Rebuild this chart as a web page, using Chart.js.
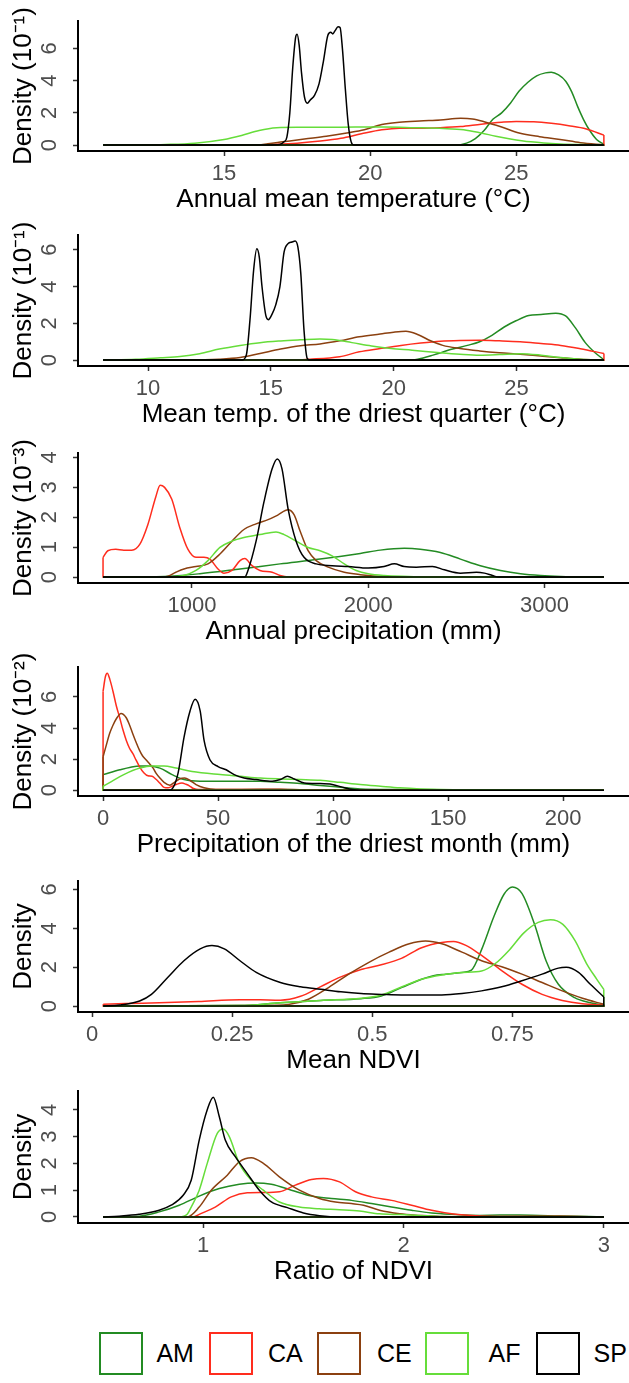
<!DOCTYPE html>
<html><head><meta charset="utf-8">
<script src="https://cdn.jsdelivr.net/npm/chart.js@4.4.1/dist/chart.umd.min.js"></script>
<style>
html,body{margin:0;padding:0;background:#fff;}
body{width:629px;height:1383px;position:relative;overflow:hidden;font-family:"Liberation Sans",Arial,Helvetica,sans-serif;}
canvas{position:absolute;left:0;}
.lb{position:absolute;box-sizing:border-box;width:44px;height:43px;border:2px solid #000;background:#fff;}
.lt{position:absolute;font-size:25px;line-height:43px;height:43px;color:#000;white-space:nowrap;}
</style></head><body>
<canvas id="c1"></canvas><canvas id="c2"></canvas><canvas id="c3"></canvas>
<canvas id="c4"></canvas><canvas id="c5"></canvas><canvas id="c6"></canvas>
<div id="legend"></div>
<script>
// ---------------- DATA ----------------
const seriesNames = ['AM','CA','CE','AF','SP'];

// Panel 1: Annual mean temperature
const p1_AM = [[10.86,0],[22.9,0],[23.3,0.12],[23.6,0.4],[23.9,0.9],[24.2,1.6],[24.5,2.0],[24.8,2.6],[25.1,3.35],[25.4,3.9],[25.7,4.3],[26.0,4.48],[26.2,4.52],[26.45,4.35],[26.7,3.95],[26.9,3.3],[27.1,2.4],[27.3,1.6],[27.5,0.95],[27.75,0.35],[28.0,0.05]];
const p1_CA = [[10.86,0],[16.0,0],[16.8,0.05],[17.5,0.12],[18.3,0.25],[19.0,0.42],[19.7,0.7],[20.4,0.95],[21.0,1.05],[21.7,1.05],[22.4,1.08],[23.1,1.15],[23.8,1.3],[24.5,1.42],[25.0,1.47],[25.6,1.45],[26.2,1.35],[26.8,1.2],[27.4,1.0],[28.0,0.62]];
const p1_CE = [[10.86,0],[16.0,0],[16.5,0.08],[17.0,0.2],[17.75,0.38],[18.5,0.55],[19.2,0.75],[19.8,0.95],[20.4,1.28],[21.0,1.42],[21.7,1.5],[22.4,1.56],[23.1,1.66],[23.5,1.62],[23.9,1.45],[24.5,1.12],[25.1,0.75],[25.8,0.52],[26.5,0.35],[27.2,0.15],[28.0,0.02]];
const p1_AF = [[10.86,0],[12,0.01],[13,0.04],[14,0.12],[15,0.35],[15.6,0.6],[16.2,0.9],[16.8,1.07],[17.5,1.1],[18.5,1.1],[19.5,1.12],[20.5,1.12],[21.5,1.08],[22.5,1.03],[23.2,0.95],[23.8,0.75],[24.3,0.55],[24.8,0.38],[25.5,0.2],[26.5,0.07],[27.5,0.02],[28.0,0]];
const p1_SP = [[10.86,0],[16.5,0],[16.9,0.03],[17.05,0.2],[17.15,0.5],[17.25,2.0],[17.35,4.8],[17.45,6.7],[17.5,6.88],[17.57,6.2],[17.65,4.5],[17.75,3.0],[17.85,2.6],[17.95,2.8],[18.1,3.1],[18.25,3.8],[18.4,5.2],[18.55,6.8],[18.65,7.0],[18.72,6.9],[18.8,7.1],[18.9,7.35],[18.97,7.3],[19.05,6.0],[19.15,3.5],[19.25,1.3],[19.35,0.2],[19.45,0],[28.0,0]];

// Panel 2: Mean temp. of the driest quarter
const p2_AM = [[8.17,0],[20.7,0],[21.2,0.12],[21.6,0.27],[22.4,0.6],[23.0,0.8],[23.5,1.0],[24.0,1.35],[24.5,1.8],[25.0,2.15],[25.5,2.42],[26.0,2.48],[26.6,2.55],[27.0,2.4],[27.4,1.75],[27.8,0.95],[28.2,0.4],[28.56,0.02]];
const p2_CA = [[8.17,0],[15.5,0],[16.6,0.05],[17.8,0.18],[18.6,0.45],[19.45,0.63],[20.3,0.8],[21.1,0.93],[21.9,1.03],[22.7,1.07],[23.5,1.08],[24.3,1.05],[25.15,1.0],[26.0,0.9],[26.8,0.8],[27.6,0.62],[28.56,0.36]];
const p2_CE = [[8.17,0],[11.5,0.01],[12.9,0.05],[13.75,0.14],[14.56,0.36],[15.4,0.6],[16.2,0.78],[17.0,0.88],[17.8,1.05],[18.6,1.27],[19.45,1.42],[20.0,1.52],[20.5,1.57],[21.0,1.38],[21.5,1.05],[22.0,0.8],[22.7,0.63],[23.5,0.5],[24.3,0.4],[25.15,0.32],[26.0,0.22],[26.8,0.13],[27.6,0.05],[28.56,0]];
const p2_AF = [[8.17,0],[9.5,0.05],[10.5,0.13],[11.3,0.2],[12.1,0.35],[12.9,0.6],[13.75,0.8],[14.56,0.95],[15.4,1.04],[16.2,1.1],[17.0,1.15],[17.5,1.12],[18.3,0.95],[19.1,0.77],[19.9,0.63],[20.75,0.54],[21.9,0.4],[22.7,0.32],[23.5,0.27],[24.3,0.3],[25.15,0.35],[26.0,0.27],[26.8,0.14],[27.6,0.05],[28.56,0]];
const p2_SP = [[8.17,0],[13.8,0],[14.0,0.27],[14.15,2.17],[14.3,4.9],[14.43,6.05],[14.53,5.6],[14.64,4.0],[14.8,2.4],[14.9,2.2],[15.05,2.5],[15.2,3.0],[15.37,4.0],[15.54,5.88],[15.7,6.33],[15.86,6.42],[15.99,6.47],[16.1,6.15],[16.22,4.7],[16.35,1.63],[16.48,0.1],[16.6,0],[28.56,0]];

// Panel 3: Annual precipitation
const p3_AM = [[496,0],[800,0.01],[1045,0.11],[1273,0.27],[1500,0.44],[1727,0.6],[1955,0.79],[2068,0.9],[2205,0.96],[2295,0.93],[2409,0.82],[2523,0.6],[2636,0.38],[2750,0.22],[2864,0.11],[2977,0.05],[3091,0.02],[3337,0]];
const p3_CA = [[496,0.65],[523,0.88],[568,0.93],[614,0.9],[659,0.9],[705,1.1],[750,1.75],[795,2.68],[820,3.07],[845,3.0],[886,2.6],[932,1.64],[977,0.93],[1023,0.66],[1068,0.66],[1102,0.6],[1148,0.27],[1182,0.13],[1227,0.22],[1273,0.55],[1300,0.62],[1341,0.38],[1386,0.22],[1455,0.16],[1500,0.05],[1545,0],[3337,0]];
const p3_CE = [[496,0],[800,0],[864,0.03],[909,0.16],[955,0.27],[1023,0.35],[1091,0.44],[1159,0.77],[1227,1.2],[1295,1.59],[1364,1.78],[1432,1.92],[1489,2.08],[1545,2.25],[1580,2.08],[1614,1.53],[1659,0.88],[1705,0.55],[1773,0.33],[1864,0.16],[1955,0.08],[2068,0.02],[2200,0],[3337,0]];
const p3_AF = [[496,0],[880,0],[955,0.05],[1023,0.22],[1091,0.55],[1159,0.99],[1227,1.2],[1295,1.32],[1386,1.42],[1477,1.51],[1523,1.42],[1591,1.2],[1659,0.99],[1727,0.88],[1795,0.71],[1864,0.44],[1932,0.22],[2000,0.11],[2091,0.05],[2227,0.02],[2350,0],[3337,0]];
const p3_SP = [[496,0],[1300,0],[1318,0.22],[1364,1.2],[1409,2.52],[1455,3.62],[1484,3.95],[1511,3.62],[1545,2.3],[1591,1.2],[1636,0.66],[1705,0.44],[1795,0.38],[1886,0.35],[2000,0.3],[2090,0.35],[2148,0.44],[2204,0.35],[2273,0.33],[2364,0.35],[2432,0.24],[2523,0.13],[2614,0.16],[2659,0.13],[2705,0.05],[2739,0],[3337,0]];

// Panel 4: Precipitation of the driest month
const p4_AM = [[0,1.0],[7.3,1.31],[12,1.48],[16,1.56],[19.5,1.56],[24.7,1.42],[30,1.0],[35.2,0.68],[42.2,0.57],[50.9,0.57],[59.6,0.57],[68.3,0.57],[77,0.5],[85.7,0.42],[94.4,0.3],[103,0.19],[111.8,0.08],[129,0.04],[146.7,0.02],[217.7,0]];
const p4_CA = [[0,6.37],[1.0,7.3],[1.8,7.53],[3.0,7.1],[4.3,6.37],[5.8,5.4],[7.2,4.68],[8.6,3.9],[10.1,3.2],[11.5,2.7],[12.9,2.36],[14.3,1.95],[15.8,1.52],[17.8,1.1],[19.5,0.92],[21.3,0.89],[23.0,0.7],[24.7,0.45],[26.5,0.18],[28.2,0.15],[30.0,0.25],[32.0,0.38],[34.3,0.46],[36.0,0.38],[37.5,0.28],[39.0,0.12],[40.4,0.06],[45.6,0.04],[60,0.04],[77,0.04],[86,0.01],[100,0],[217.7,0]];
const p4_CE = [[0,2.15],[1.4,2.9],[2.8,3.63],[4.2,4.15],[5.7,4.58],[7.8,4.94],[10,4.68],[11.5,4.2],[12.9,3.63],[14.3,3.1],[15.8,2.58],[17.2,2.2],[18.75,1.94],[20.2,1.7],[21.6,1.45],[23.0,1.1],[24.7,0.78],[26.5,0.5],[29,0.32],[31.0,0.5],[33.0,0.7],[35.5,0.78],[37.8,0.62],[40.4,0.36],[43.9,0.15],[49,0.04],[60,0.04],[77,0.06],[94,0],[217.7,0]];
const p4_AF = [[0,0.25],[3.8,0.57],[9,1.0],[16,1.42],[21.3,1.56],[26.5,1.56],[31.7,1.42],[38.7,1.2],[50.9,1.0],[59.6,0.89],[68.3,0.78],[77,0.72],[85.7,0.68],[94.4,0.63],[103,0.5],[111.8,0.36],[120.6,0.25],[129,0.15],[138,0.08],[146.7,0.04],[164,0.02],[217.7,0]];
const p4_SP = [[0,0],[28.5,0],[30,0.08],[32.6,1.1],[35.2,3.42],[37.8,5.1],[40,5.85],[42.2,5.1],[43.9,3.2],[46.5,1.94],[50,1.52],[53.5,1.31],[57,1.0],[61.3,0.78],[66.5,0.68],[73.5,0.57],[77,0.68],[80.1,0.89],[83.1,0.72],[87.5,0.46],[94.4,0.42],[99.6,0.36],[104.9,0.15],[108.4,0.04],[111.8,0],[217.7,0]];

// Panel 5: Mean NDVI
const p5_AM = [[0.02,0],[0.264,0.03],[0.336,0.17],[0.408,0.29],[0.48,0.38],[0.516,0.52],[0.552,0.95],[0.588,1.38],[0.609,1.56],[0.631,1.64],[0.66,1.73],[0.677,1.85],[0.695,2.9],[0.717,4.6],[0.735,5.75],[0.75,6.12],[0.767,5.79],[0.789,4.24],[0.81,2.33],[0.832,1.12],[0.861,0.43],[0.889,0.17],[0.913,0.05]];
const p5_CA = [[0.02,0.09],[0.06,0.13],[0.12,0.17],[0.19,0.24],[0.264,0.33],[0.3,0.32],[0.336,0.3],[0.372,0.5],[0.408,1.0],[0.444,1.5],[0.48,1.88],[0.516,2.12],[0.552,2.45],[0.588,3.0],[0.624,3.27],[0.645,3.32],[0.667,3.12],[0.695,2.6],[0.731,1.82],[0.767,1.12],[0.803,0.6],[0.839,0.29],[0.875,0.12],[0.913,0.05]];
const p5_CE = [[0.02,0],[0.3,0.03],[0.35,0.08],[0.386,0.35],[0.422,0.95],[0.458,1.64],[0.494,2.25],[0.53,2.77],[0.566,3.2],[0.595,3.34],[0.624,3.2],[0.66,2.77],[0.695,2.33],[0.731,2.02],[0.767,1.64],[0.803,1.21],[0.839,0.78],[0.875,0.4],[0.913,0.09]];
const p5_AF = [[0.02,0],[0.264,0.03],[0.336,0.17],[0.408,0.29],[0.48,0.4],[0.516,0.57],[0.552,0.98],[0.588,1.38],[0.624,1.6],[0.66,1.73],[0.695,1.8],[0.72,2.2],[0.745,2.9],[0.77,3.75],[0.796,4.3],[0.818,4.44],[0.84,4.2],[0.862,3.35],[0.882,2.2],[0.9,1.4],[0.913,0.86]];
const p5_SP = [[0.02,0],[0.049,0.05],[0.085,0.26],[0.106,0.6],[0.135,1.47],[0.164,2.33],[0.193,2.94],[0.214,3.11],[0.236,2.94],[0.264,2.33],[0.293,1.73],[0.336,1.21],[0.372,0.99],[0.408,0.86],[0.444,0.73],[0.48,0.64],[0.516,0.6],[0.552,0.57],[0.624,0.57],[0.66,0.64],[0.695,0.78],[0.731,0.99],[0.767,1.3],[0.803,1.64],[0.832,1.95],[0.846,1.99],[0.868,1.73],[0.889,1.12],[0.913,0.47]];

// Panel 6: Ratio of NDVI
const p6_AM = [[0.5,0],[0.68,0.03],[0.78,0.19],[0.88,0.44],[0.98,0.78],[1.08,1.06],[1.18,1.22],[1.26,1.27],[1.34,1.22],[1.44,1.0],[1.54,0.78],[1.64,0.69],[1.74,0.62],[1.84,0.5],[1.94,0.37],[2.04,0.25],[2.14,0.15],[2.24,0.1],[2.38,0.06],[2.48,0.07],[2.58,0.07],[2.78,0.04],[3.0,0]];
const p6_CA = [[0.5,0],[0.95,0],[0.98,0.1],[1.06,0.37],[1.14,0.75],[1.22,0.9],[1.3,0.91],[1.38,0.94],[1.46,1.19],[1.54,1.4],[1.6,1.44],[1.68,1.31],[1.76,0.94],[1.84,0.75],[1.94,0.62],[2.04,0.44],[2.14,0.25],[2.24,0.12],[2.38,0.04],[2.58,0.02],[2.78,0.02],[3.0,0]];
const p6_CE = [[0.5,0],[0.92,0],[0.98,0.37],[1.04,1.0],[1.12,1.56],[1.18,2.06],[1.24,2.21],[1.3,2.0],[1.38,1.5],[1.48,1.0],[1.58,0.69],[1.66,0.56],[1.74,0.5],[1.8,0.44],[1.88,0.25],[1.98,0.12],[2.08,0.06],[2.18,0.02],[2.4,0.01],[2.78,0.03],[3.0,0]];
const p6_AF = [[0.5,0],[0.88,0],[0.92,0.1],[0.94,0.37],[0.98,1.0],[1.02,2.0],[1.07,3.12],[1.1,3.28],[1.13,3.0],[1.18,2.0],[1.24,1.37],[1.3,1.0],[1.38,0.56],[1.48,0.37],[1.58,0.31],[1.68,0.27],[1.78,0.22],[1.88,0.12],[1.98,0.09],[2.08,0.06],[2.18,0.02],[2.38,0],[3.0,0]];
const p6_SP = [[0.5,0],[0.58,0.03],[0.68,0.1],[0.78,0.25],[0.84,0.44],[0.9,0.81],[0.94,1.37],[0.98,2.87],[1.02,4.0],[1.05,4.47],[1.08,3.75],[1.11,2.87],[1.16,2.25],[1.22,1.62],[1.28,1.0],[1.34,0.56],[1.42,0.35],[1.5,0.15],[1.58,0.05],[1.68,0],[3.0,0]];

// Axis titles
const xTitles = ['Annual mean temperature (\u00B0C)','Mean temp. of the driest quarter (\u00B0C)','Annual precipitation (mm)','Precipitation of the driest month (mm)','Mean NDVI','Ratio of NDVI'];
const yTitles = ['Density (10\u207B\u00B9)','Density (10\u207B\u00B9)','Density (10\u207B\u00B3)','Density (10\u207B\u00B2)','Density','Density'];

// Tick values and labels
const xTicks1 = [15,20,25], xLabels1 = ['15','20','25'];
const xTicks2 = [10,15,20,25], xLabels2 = ['10','15','20','25'];
const xTicks3 = [1000,2000,3000], xLabels3 = ['1000','2000','3000'];
const xTicks4 = [0,50,100,150,200], xLabels4 = ['0','50','100','150','200'];
const xTicks5 = [0,0.25,0.5,0.75], xLabels5 = ['0','0.25','0.5','0.75'];
const xTicks6 = [1,2,3], xLabels6 = ['1','2','3'];
const yTicks1 = [0,2,4,6], yTicks2 = [0,2,4,6], yTicks3 = [0,1,2,3,4], yTicks4 = [0,2,4,6], yTicks5 = [0,2,4,6], yTicks6 = [0,1,2,3,4];

// Axis ranges (ggplot 5% expansion)
const xRanges = [[10.0,28.86],[7.15,29.58],[354,3479],[-10.9,228.6],[-0.025,0.958],[0.375,3.125]];
const yRanges = [[-0.367,7.7],[-0.32,6.8],[-0.2,4.15],[-0.378,7.93],[-0.306,6.43],[-0.224,4.7]];

// ---------------- STYLE / LAYOUT ----------------
const colors = ['#238B23','#FF2D1E','#8B4010','#66DD3A','#000000'];
const FONT = '"Liberation Sans", Arial, Helvetica, sans-serif';
const panelBoxes = [{pt:21,pb:151},{pt:235,pb:366},{pt:453,pb:583},{pt:667,pb:796},{pt:881,pb:1012},{pt:1091,pb:1223}];
const PADTOP = 20, XAXIS_H = 69, YAXIS_W = 78;

const panels = [
  {id:'c1', series:[p1_AM,p1_CA,p1_CE,p1_AF,p1_SP], xt:xTicks1, xl:xLabels1, yt:yTicks1},
  {id:'c2', series:[p2_AM,p2_CA,p2_CE,p2_AF,p2_SP], xt:xTicks2, xl:xLabels2, yt:yTicks2},
  {id:'c3', series:[p3_AM,p3_CA,p3_CE,p3_AF,p3_SP], xt:xTicks3, xl:xLabels3, yt:yTicks3},
  {id:'c4', series:[p4_AM,p4_CA,p4_CE,p4_AF,p4_SP], xt:xTicks4, xl:xLabels4, yt:yTicks4},
  {id:'c5', series:[p5_AM,p5_CA,p5_CE,p5_AF,p5_SP], xt:xTicks5, xl:xLabels5, yt:yTicks5},
  {id:'c6', series:[p6_AM,p6_CA,p6_CE,p6_AF,p6_SP], xt:xTicks6, xl:xLabels6, yt:yTicks6}
];

function buildDatasets(series) {
  const ds = [];
  series.forEach((pts, i) => {
    const c = colors[i];
    const first = pts[0], last = pts[pts.length - 1];
    ds.push({label: seriesNames[i], data: pts.map(p => ({x:p[0], y:p[1]})),
      borderColor: c, borderWidth: 1.5, pointRadius: 0, showLine: true, fill: false,
      cubicInterpolationMode: 'monotone', order: 20 - 2 * i});
    ds.push({label: seriesNames[i] + ' outline',
      data: [{x:last[0], y:last[1]}, {x:last[0], y:0}, {x:first[0], y:0}, {x:first[0], y:first[1]}],
      borderColor: c, borderWidth: 1.5, pointRadius: 0, showLine: true, fill: false,
      tension: 0, order: 20 - 2 * i});
  });
  return ds;
}

panels.forEach((p, k) => {
  const box = panelBoxes[k];
  const cv = document.getElementById(p.id);
  const H = PADTOP + (box.pb - box.pt) + XAXIS_H;
  cv.width = 629; cv.height = H;
  cv.style.top = (box.pt - PADTOP) + 'px';
  cv.style.width = '629px'; cv.style.height = H + 'px';
  new Chart(cv, {
    type: 'scatter',
    data: {datasets: buildDatasets(p.series)},
    options: {
      responsive: false, animation: false, devicePixelRatio: 1, events: [],
      layout: {padding: {top: PADTOP, left: 0, right: 0, bottom: 0}},
      plugins: {legend: {display: false}, tooltip: {enabled: false}},
      scales: {
        x: {
          type: 'linear', min: xRanges[k][0], max: xRanges[k][1],
          afterBuildTicks: s => { s.ticks = p.xt.map(v => ({value: v})); },
          afterFit: s => { s.height = XAXIS_H; s.paddingLeft = 0; s.paddingRight = 0; },
          ticks: {autoSkip: false, minRotation: 0, maxRotation: 0, padding: 4.3, color: '#4D4D4D',
                  font: {size: 22, family: FONT}, callback: (v, i) => p.xl[i]},
          grid: {display: true, drawOnChartArea: false, drawTicks: true, tickLength: 5,
                 color: '#333333', tickColor: '#333333', tickWidth: 1.5},
          border: {display: true, color: '#000000', width: 2},
          title: {display: true, text: xTitles[k], color: '#000000',
                  font: {size: 26, family: FONT}, padding: {top: 0, bottom: 4.4}}
        },
        y: {
          type: 'linear', min: yRanges[k][0], max: yRanges[k][1],
          afterBuildTicks: s => { s.ticks = p.yt.map(v => ({value: v})); },
          afterFit: s => { s.width = YAXIS_W; s.paddingTop = 0; s.paddingBottom = 0; },
          ticks: {autoSkip: false, minRotation: 90, maxRotation: 90, crossAlign: 'center', padding: 16.9,
                  color: '#4D4D4D', font: {size: 22, family: FONT}, callback: v => String(v)},
          grid: {display: true, drawOnChartArea: false, drawTicks: true, tickLength: 5,
                 color: '#333333', tickColor: '#333333', tickWidth: 1.5},
          border: {display: true, color: '#000000', width: 2},
          title: {display: true, text: yTitles[k], color: '#000000',
                  font: {size: 26, family: FONT}, padding: {top: 8.4, bottom: 0}}
        }
      }
    }
  });
});

// Legend (HTML, drawn from seriesNames/colors)
const legendBoxLeft = [99, 209, 317, 425, 535.5];
const legendTextLeft = [156.4, 268, 377, 488.6, 593.6];
const LEG_TOP = 1332;
const leg = document.getElementById('legend');
seriesNames.forEach((n, i) => {
  const b = document.createElement('div');
  b.className = 'lb';
  b.style.left = legendBoxLeft[i] + 'px'; b.style.top = LEG_TOP + 'px';
  b.style.borderColor = colors[i];
  leg.appendChild(b);
  const t = document.createElement('div');
  t.className = 'lt';
  t.style.left = legendTextLeft[i] + 'px'; t.style.top = LEG_TOP + 'px';
  t.textContent = n;
  leg.appendChild(t);
});
</script>
</body></html>
